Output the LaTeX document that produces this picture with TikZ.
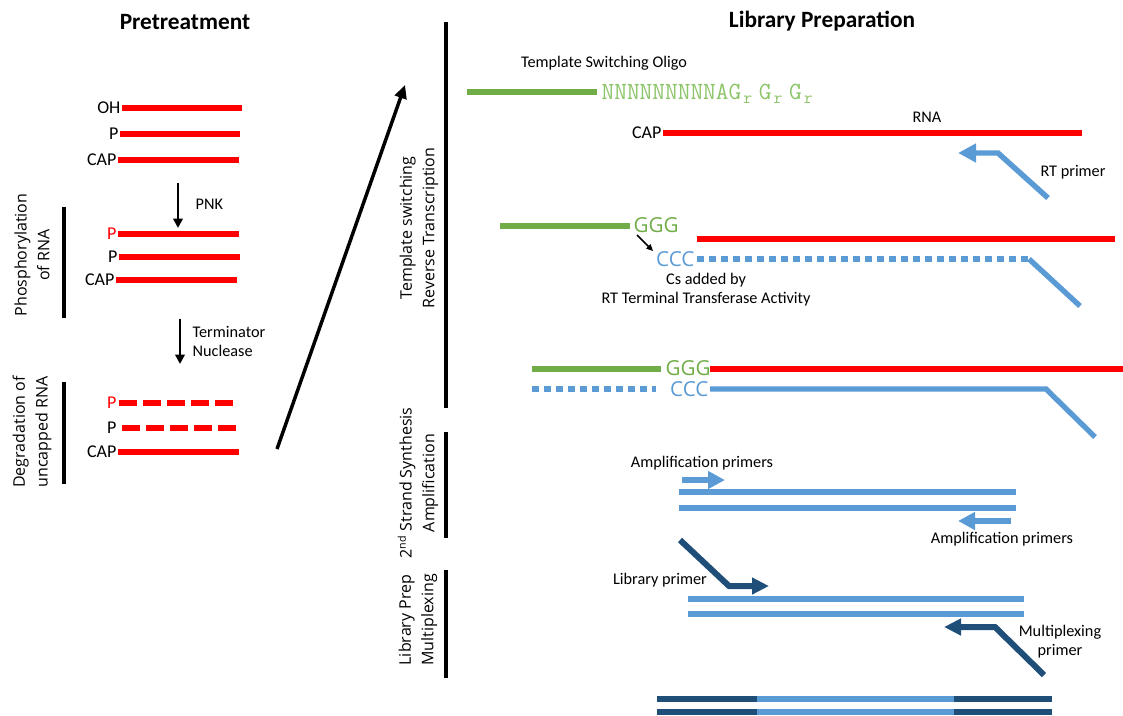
\documentclass[tikz,border=0pt]{standalone}
\usepackage{fontspec}
\setmainfont{Carlito}
\newfontfamily\osans{Open Sans}
\usetikzlibrary{arrows.meta,calc}
\definecolor{rnared}{RGB}{255,0,0}
\definecolor{tsogreen}{RGB}{112,173,71}
\definecolor{seqgreen}{RGB}{140,196,104}
\definecolor{cdnablue}{RGB}{91,155,213}
\definecolor{libblue}{RGB}{31,78,121}
\newcommand{\subr}{\hspace{1.5pt}\textsubscript{r}\hspace{4.5pt}}
\tikzset{
  redstrand/.style={draw=rnared, line width=4.2pt},
  reddash/.style={draw=rnared, line width=4.2pt, dash pattern=on 13.5pt off 4.5pt},
  greenstrand/.style={draw=tsogreen, line width=4pt},
  bluestrand/.style={draw=cdnablue, line width=4pt, line join=miter},
  bluedots/.style={draw=cdnablue, line width=4.3pt, dash pattern=on 4.9pt off 4.1pt},
  darkstrand/.style={draw=libblue, line width=4.3pt},
  sidebar/.style={draw=black, line width=2.5pt},
  steparrow/.style={draw=black, line width=2.2pt, -{Triangle[length=7pt,width=7pt]}},
  bigarrow/.style={draw=black, line width=2.6pt, -{Triangle[length=10pt,width=9pt]}},
  smallarrow/.style={draw=black, line width=1.1pt, -{Triangle[length=5pt,width=4.5pt]}},
  rtprimer/.style={draw=cdnablue, line width=4.1pt, line join=miter, -{Triangle[length=13.5pt,width=13.5pt]}},
  ampprimer/.style={draw=cdnablue, line width=5.2pt, -{Triangle[length=12.75pt,width=12.75pt]}},
  libprimer/.style={draw=libblue, line width=4.5pt, line join=miter, -{Triangle[length=12.75pt,width=12pt]}},
  endlab/.style={anchor=east, inner sep=1pt, font=\fontsize{13.5}{15}\selectfont},
  smalllab/.style={inner sep=1pt, font=\fontsize{12.2}{14.25}\selectfont},
  sidelab/.style={rotate=90, align=center, inner sep=0pt, font=\osans\fontsize{12}{17}\selectfont},
  titlelab/.style={font=\bfseries\fontsize{17.5}{20}\selectfont},
  basetext/.style={inner sep=1pt, font=\osans\fontsize{15.5}{18}\selectfont},
}
\begin{document}
\begin{tikzpicture}[x=0.75pt,y=-0.75pt]
\useasboundingbox (0,0) rectangle (1123,715);

% ---------------- Pretreatment ----------------
\node[titlelab] (t1) at (185,22) {Pretreatment};

% group 1
\coordinate (a1s) at (122,108); \coordinate (a1e) at (242,108);
\coordinate (a2s) at (120,134); \coordinate (a2e) at (240,134);
\coordinate (a3s) at (118,160); \coordinate (a3e) at (239,160);
\draw[redstrand] (a1s) -- (a1e);
\draw[redstrand] (a2s) -- (a2e);
\draw[redstrand] (a3s) -- (a3e);
\node[endlab] (la1) at (a1s) {OH};
\node[endlab] (la2) at (a2s) {P};
\node[endlab] (la3) at (a3s) {CAP};

% PNK
\coordinate (pnks) at (178,183); \coordinate (pnke) at (178,228);
\draw[steparrow] (pnks) -- (pnke);
\node[smalllab, anchor=west] (pnk) at (194,204) {PNK};

% group 2
\coordinate (b1s) at (118,234); \coordinate (b1e) at (239,234);
\coordinate (b2s) at (119,257); \coordinate (b2e) at (240,257);
\coordinate (b3s) at (116,280); \coordinate (b3e) at (237,280);
\draw[redstrand] (b1s) -- (b1e);
\draw[redstrand] (b2s) -- (b2e);
\draw[redstrand] (b3s) -- (b3e);
\node[endlab, text=rnared] (lb1) at (b1s) {P};
\node[endlab] (lb2) at (b2s) {P};
\node[endlab] (lb3) at (b3s) {CAP};

\coordinate (v1s) at (64,207); \coordinate (v1e) at (64,318);
\draw[sidebar] (v1s) -- (v1e);
\node[sidelab] (phos) at (32,255) {Phosphorylation\\of RNA};

% Terminator
\coordinate (tns) at (180,319); \coordinate (tne) at (180,364);
\draw[steparrow] (tns) -- (tne);
\node[smalllab, anchor=west, align=left] (tn) at (191,341) {Terminator\\Nuclease};

% group 3
\coordinate (c1s) at (119,403); \coordinate (c1e) at (236,403);
\coordinate (c2s) at (122,428); \coordinate (c2e) at (239,428);
\coordinate (c3s) at (118,452); \coordinate (c3e) at (239,452);
\draw[reddash] (c1s) -- (c1e);
\draw[reddash] (c2s) -- (c2e);
\draw[redstrand] (c3s) -- (c3e);
\node[endlab, text=rnared] (lc1) at ($(c1s)+(-1,0)$) {P};
\node[endlab] (lc2) at ($(c2s)+(-4,0)$) {P};
\node[endlab] (lc3) at (c3s) {CAP};

\coordinate (v2s) at (64,382); \coordinate (v2e) at (64,484);
\draw[sidebar] (v2s) -- (v2e);
\node[sidelab] (degr) at (32,432) {Degradation of\\uncapped RNA};

% big arrow
\coordinate (bas) at (277,449); \coordinate (bae) at (405,85);
\draw[bigarrow] (bas) -- (bae);

% ---------------- Library Preparation ----------------
\node[titlelab] (t2) at (822,21) {Library Preparation};

\coordinate (r1s) at (446,22); \coordinate (r1e) at (446,408);
\draw[sidebar] (r1s) -- (r1e);
\node[sidelab] (tsrt) at (419,228) {Template switching\\Reverse Transcription};

\coordinate (r2s) at (446,432); \coordinate (r2e) at (446,538);
\draw[sidebar] (r2s) -- (r2e);
\node[sidelab] (amp) at (418,483) {2\textsuperscript{nd} Strand Synthesis\\Amplification};

\coordinate (r3s) at (446,570); \coordinate (r3e) at (446,678);
\draw[sidebar] (r3s) -- (r3e);
\node[sidelab] (mpx) at (418,620) {Library Prep\\Multiplexing};

% row 1
\node[smalllab] (tsolab) at (604,63) {Template Switching Oligo};
\coordinate (g1s) at (467,92); \coordinate (g1e) at (597,92);
\draw[greenstrand] (g1s) -- (g1e);
\node[anchor=west, inner sep=1pt, text=seqgreen, font=\ttfamily\fontsize{18.5}{20}\selectfont] (seq) at (600,94)
  {NNNNNNNNNAG\subr G\subr G\subr};
\coordinate (rna1s) at (663,133); \coordinate (rna1e) at (1082,133);
\draw[redstrand] (rna1s) -- (rna1e);
\node[endlab] (cap1) at (rna1s) {CAP};
\node[smalllab] (rnalab) at (927,117) {RNA};
\coordinate (rt1) at (1048,198); \coordinate (rt2) at (998,153); \coordinate (rt3) at (958,153);
\draw[rtprimer] (rt1) -- (rt2) -- (rt3);
\node[smalllab] (rtlab) at (1073,172) {RT primer};

% row 2
\coordinate (g2s) at (500,226); \coordinate (g2e) at (630,226);
\draw[greenstrand] (g2s) -- (g2e);
\node[basetext, anchor=west, text=tsogreen] (ggg1) at (632,225) {GGG};
\coordinate (rna2s) at (697,239); \coordinate (rna2e) at (1115,239);
\draw[redstrand] (rna2s) -- (rna2e);
\coordinate (d1s) at (697,259); \coordinate (d1e) at (1029,259); \coordinate (d1t) at (1080,306);
\draw[bluedots] (d1s) -- (d1e);
\draw[bluestrand] (d1e) -- (d1t);
\node[basetext, anchor=east, text=cdnablue] (ccc1) at (696,259) {CCC};
\coordinate (sa1) at (637,235); \coordinate (sa2) at (653,251);
\draw[smallarrow] (sa1) -- (sa2);
\node[smalllab, align=center] (csadd) at (706,290) {Cs added by\\RT Terminal Transferase Activity};

% row 3
\coordinate (g3s) at (532,369); \coordinate (g3e) at (661,369);
\draw[greenstrand] (g3s) -- (g3e);
\node[basetext, anchor=west, text=tsogreen] (ggg2) at (664,368) {GGG};
\coordinate (rna3s) at (710,369); \coordinate (rna3e) at (1123,369);
\draw[redstrand] (rna3s) -- (rna3e);
\coordinate (d2s) at (532,389); \coordinate (d2e) at (656,389);
\draw[bluedots] (d2s) -- (d2e);
\node[basetext, anchor=east, text=cdnablue] (ccc2) at (710,389) {CCC};
\coordinate (e1) at (710,389); \coordinate (e2) at (1046,389); \coordinate (e3) at (1095,437);
\draw[bluestrand] (e1) -- (e2) -- (e3);

% amplification
\node[smalllab] (amplab1) at (702,463) {Amplification primers};
\coordinate (ap1s) at (682,480); \coordinate (ap1e) at (725,480);
\draw[ampprimer] (ap1s) -- (ap1e);
\coordinate (f1s) at (679,492); \coordinate (f1e) at (1016,492);
\coordinate (f2s) at (679,508); \coordinate (f2e) at (1016,508);
\draw[bluestrand] (f1s) -- (f1e);
\draw[bluestrand] (f2s) -- (f2e);
\coordinate (ap2s) at (1011,521); \coordinate (ap2e) at (958,521);
\draw[ampprimer] (ap2s) -- (ap2e);
\node[smalllab] (amplab2) at (1002,539) {Amplification primers};

% library prep
\coordinate (lp1) at (680,540); \coordinate (lp2) at (729,586); \coordinate (lp3) at (769,586);
\draw[libprimer] (lp1) -- (lp2) -- (lp3);
\node[smalllab] (liblab) at (660,580) {Library primer};
\coordinate (h1s) at (688,599); \coordinate (h1e) at (1024,599);
\coordinate (h2s) at (688,614); \coordinate (h2e) at (1024,614);
\draw[bluestrand] (h1s) -- (h1e);
\draw[bluestrand] (h2s) -- (h2e);
\coordinate (mp1) at (1044,675); \coordinate (mp2) at (995,627); \coordinate (mp3) at (944,627);
\draw[libprimer] (mp1) -- (mp2) -- (mp3);
\node[smalllab, align=center] (mpxlab) at (1060,642) {Multiplexing\\primer};

% final library
\coordinate (k1) at (657,699); \coordinate (k2) at (757,699); \coordinate (k3) at (954,699); \coordinate (k4) at (1052,699);
\coordinate (m1) at (657,712); \coordinate (m2) at (757,712); \coordinate (m3) at (954,712); \coordinate (m4) at (1052,712);
\draw[darkstrand] (k1) -- (k2);
\draw[bluestrand] (k2) -- (k3);
\draw[darkstrand] (k3) -- (k4);
\draw[darkstrand] (m1) -- (m2);
\draw[bluestrand] (m2) -- (m3);
\draw[darkstrand] (m3) -- (m4);
\end{tikzpicture}
\end{document}
